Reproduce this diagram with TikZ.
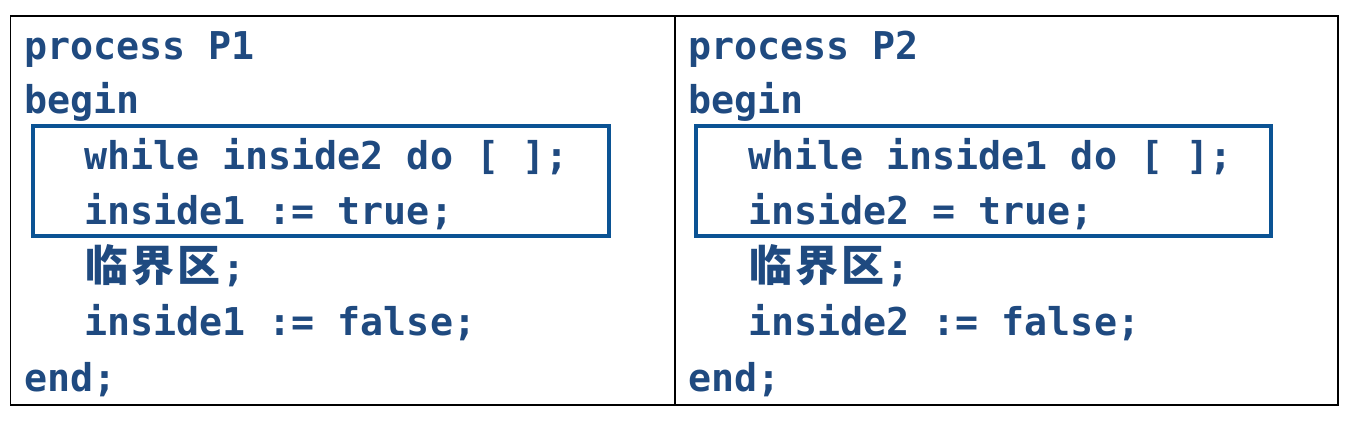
\documentclass[tikz,border=0pt]{standalone}
\usepackage{fontspec}
\setmonofont{DejaVu Sans Mono}
\newfontfamily\cjk{Noto Sans CJK SC}
\definecolor{codeblue}{HTML}{1F4A80}
\definecolor{boxblue}{HTML}{0B5394}
\newcommand{\cj}[1]{\makebox[46pt][c]{\cjk\bfseries\fontsize{43}{45}\selectfont #1}}
\begin{document}
\begin{tikzpicture}[x=1pt,y=-1pt,
  code/.style={anchor=base west,inner sep=0pt,text=codeblue,
    font=\ttfamily\bfseries\fontsize{38.3}{40}\selectfont},
  grid/.style={draw=black,line width=1.5pt},
  hilite/.style={draw=boxblue,line width=3.5pt}]
\useasboundingbox[fill=white] (0,0) rectangle (1353,422);
% table
\draw[grid] (10.5,16) rectangle (1338,405);
\draw[grid] (675,16) -- (675,405);
% highlight boxes
\draw[hilite] (33,126) rectangle (609,236);
\draw[hilite] (696,126) rectangle (1271,236);
% left column
\node[code] (l1) at (24,60) {process P1};
\node[code] (l2) at (24,114) {begin};
\node[code] (l3) at (84,170) {while inside2 do [ ];};
\node[code] (l4) at (84,225) {inside1 := true;};
\node[code] (l5) at (84,282) {\cj{临}\cj{界}\cj{区};};
\node[code] (l6) at (84,335) {inside1 := false;};
\node[code] (l7) at (24,391) {end;};
% right column
\node[code] (r1) at (688,60) {process P2};
\node[code] (r2) at (688,114) {begin};
\node[code] (r3) at (748,170) {while inside1 do [ ];};
\node[code] (r4) at (748,225) {inside2 = true;};
\node[code] (r5) at (748,282) {\cj{临}\cj{界}\cj{区};};
\node[code] (r6) at (748,335) {inside2 := false;};
\node[code] (r7) at (688,391) {end;};
\end{tikzpicture}
\end{document}
